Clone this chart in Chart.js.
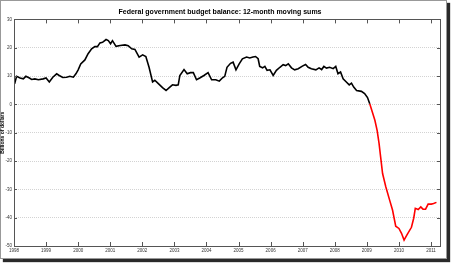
<!DOCTYPE html>
<html>
<head>
<meta charset="utf-8">
<script src="https://cdn.jsdelivr.net/npm/chart.js@4/dist/chart.umd.min.js"></script>
<style>
  html, body { margin: 0; padding: 0; background: #fff; }
  #frame { position: absolute; left: 0; top: 0; width: 445px; height: 257px;
           border: 1px solid #999; background: #fff; box-shadow: 3px 3px 1px #2a2a2a; }
  #c { position: absolute; left: 0; top: 0; }
</style>
</head>
<body>
<div id="frame"></div>
<canvas id="c" width="447" height="259"></canvas>
<script>
// Decimal years and 12-month moving sums (billions of dollars)
const blackYears = [1998.02,1998.08,1998.19,1998.29,1998.37,1998.48,1998.55,1998.65,1998.76,1998.91,
  1999.00,1999.10,1999.21,1999.33,1999.41,1999.52,1999.64,1999.74,1999.85,1999.93,
  2000.00,2000.08,2000.21,2000.31,2000.42,2000.52,2000.60,2000.68,2000.76,2000.87,2000.94,
  2001.01,2001.07,2001.18,2001.31,2001.46,2001.56,2001.67,2001.77,2001.90,
  2002.01,2002.11,2002.21,2002.32,2002.39,2002.50,2002.63,2002.74,2002.84,2002.94,
  2003.05,2003.12,2003.17,2003.30,2003.40,2003.50,2003.59,2003.69,2003.79,2003.92,
  2004.05,2004.16,2004.29,2004.40,2004.50,2004.57,2004.64,2004.75,2004.83,2004.92,
  2005.02,2005.12,2005.25,2005.35,2005.45,2005.53,2005.61,2005.66,2005.75,2005.82,2005.89,2005.98,
  2006.08,2006.18,2006.29,2006.39,2006.47,2006.55,2006.65,2006.75,2006.86,2006.99,
  2007.09,2007.17,2007.27,2007.41,2007.51,2007.59,2007.66,2007.74,2007.84,2007.95,
  2008.03,2008.10,2008.18,2008.26,2008.36,2008.45,2008.52,2008.59,2008.68,2008.83,2008.93,
  2009.02,2009.09];
const blackValues = [7.3,9.9,9.3,9.0,9.9,9.3,8.8,9.0,8.7,9.0,
  9.3,7.9,9.6,10.8,10.2,9.5,9.6,9.9,9.6,10.8,
  12.2,14.3,15.7,17.9,19.6,20.4,20.4,21.7,21.9,22.9,22.5,
  21.4,22.5,20.5,20.8,21.0,20.7,19.6,19.4,16.7,
  17.5,16.9,13.1,7.9,8.5,7.3,5.9,4.9,5.9,6.9,
  6.7,6.9,10.2,12.3,10.8,11.2,11.2,8.7,9.3,10.2,
  11.2,8.7,8.7,8.2,9.4,9.9,13.1,14.5,14.9,12.2,
  14.3,16.1,16.7,16.4,16.7,16.9,16.1,13.4,12.9,13.4,12.0,12.2,
  10.2,12.0,13.1,14.0,13.7,14.3,12.9,12.2,12.6,13.5,
  14.1,13.1,12.6,12.2,12.9,12.3,13.4,12.8,13.1,12.6,
  13.4,10.8,11.4,9.0,7.9,6.9,7.5,6.1,4.9,4.6,3.8,
  2.4,0.2];
const redYears = [2009.09,2009.17,2009.25,2009.32,2009.38,2009.43,2009.49,2009.59,2009.71,2009.80,2009.90,
  2010.00,2010.08,2010.16,2010.25,2010.39,2010.46,2010.51,2010.60,2010.68,2010.75,2010.83,2010.91,
  2011.01,2011.08,2011.17];
const redValues = [0.2,-2.7,-5.6,-9.2,-13.8,-18.6,-24.4,-29.1,-33.8,-37.3,-43.0,
  -43.8,-45.5,-47.9,-46.1,-43.4,-40.2,-36.7,-37.1,-36.2,-37.0,-37.0,-35.2,
  -35.2,-35.0,-34.6];
const yTicks = [30,20,10,0,-10,-20,-30,-40,-50];
const xTickYears = [1998,1999,2000,2001,2002,2003,2004,2005,2006,2007,2008,2009,2010,2011];

const toPts = (xs, ys) => xs.map((x, i) => ({x: x, y: ys[i]}));
const FONT = "'Liberation Sans', Arial, sans-serif";

const framePlugin = {
  id: 'framePlugin',
  afterDatasetsDraw(chart) {
    const {ctx, chartArea: a, scales} = chart;
    ctx.save();
    ctx.strokeStyle = '#555';
    ctx.lineWidth = 1;
    ctx.strokeRect(Math.round(a.left) + 0.5, Math.round(a.top) + 0.5,
                   Math.round(a.right - a.left), Math.round(a.bottom - a.top));
    ctx.beginPath();
    scales.x.ticks.forEach(t => {
      const px = Math.round(scales.x.getPixelForValue(t.value)) + 0.5;
      ctx.moveTo(px, a.bottom); ctx.lineTo(px, a.bottom - 4);
      ctx.moveTo(px, a.top); ctx.lineTo(px, a.top + 4);
    });
    scales.y.ticks.forEach(t => {
      const py = Math.round(scales.y.getPixelForValue(t.value)) + 0.5;
      ctx.moveTo(a.left, py); ctx.lineTo(a.left + 3, py);
      ctx.moveTo(a.right, py); ctx.lineTo(a.right - 3, py);
    });
    ctx.stroke();
    ctx.restore();
  }
};

new Chart(document.getElementById('c'), {
  type: 'scatter',
  data: {
    datasets: [
      { data: toPts(blackYears, blackValues), showLine: true, borderColor: '#000',
        borderWidth: 1.6, pointRadius: 0, tension: 0 },
      { data: toPts(redYears, redValues), showLine: true, borderColor: '#ff0000',
        borderWidth: 1.6, pointRadius: 0, tension: 0 }
    ]
  },
  options: {
    responsive: false,
    animation: false,
    layout: { padding: { left: 0, right: 7, top: 0, bottom: 0 } },
    plugins: {
      legend: { display: false },
      tooltip: { enabled: false },
      title: {
        display: true,
        text: 'Federal government budget balance: 12-month moving sums',
        color: '#000',
        font: { family: FONT, size: 7, weight: 'bold', lineHeight: 1.2 },
        padding: { top: 8, bottom: 3 }
      }
    },
    scales: {
      x: {
        type: 'linear',
        min: 1998, max: 2011.28,
        afterBuildTicks: s => { s.ticks = xTickYears.map(v => ({value: v})); },
        afterFit: s => { s.height = 13; },
        grid: { display: false, drawTicks: false },
        border: { display: false },
        ticks: { color: '#333', padding: 2, maxRotation: 0, autoSkip: false,
                 font: { family: FONT, size: 4.5 }, callback: v => String(v) }
      },
      y: {
        min: -50, max: 30,
        afterBuildTicks: s => { s.ticks = yTicks.map(v => ({value: v})); },
        afterFit: s => { s.width = 14; },
        grid: { color: '#c8c8c8', lineWidth: 0.8, drawTicks: false,
                tickBorderDash: [1, 1] },
        border: { display: false, dash: [1, 1] },
        ticks: { color: '#333', padding: 2, font: { family: FONT, size: 4.5 } },
        title: { display: true, text: 'Billions of dollars', color: '#000', padding: 0,
                 font: { family: FONT, size: 5, weight: 'bold' } }
      }
    }
  },
  plugins: [framePlugin]
});
</script>
</body>
</html>
